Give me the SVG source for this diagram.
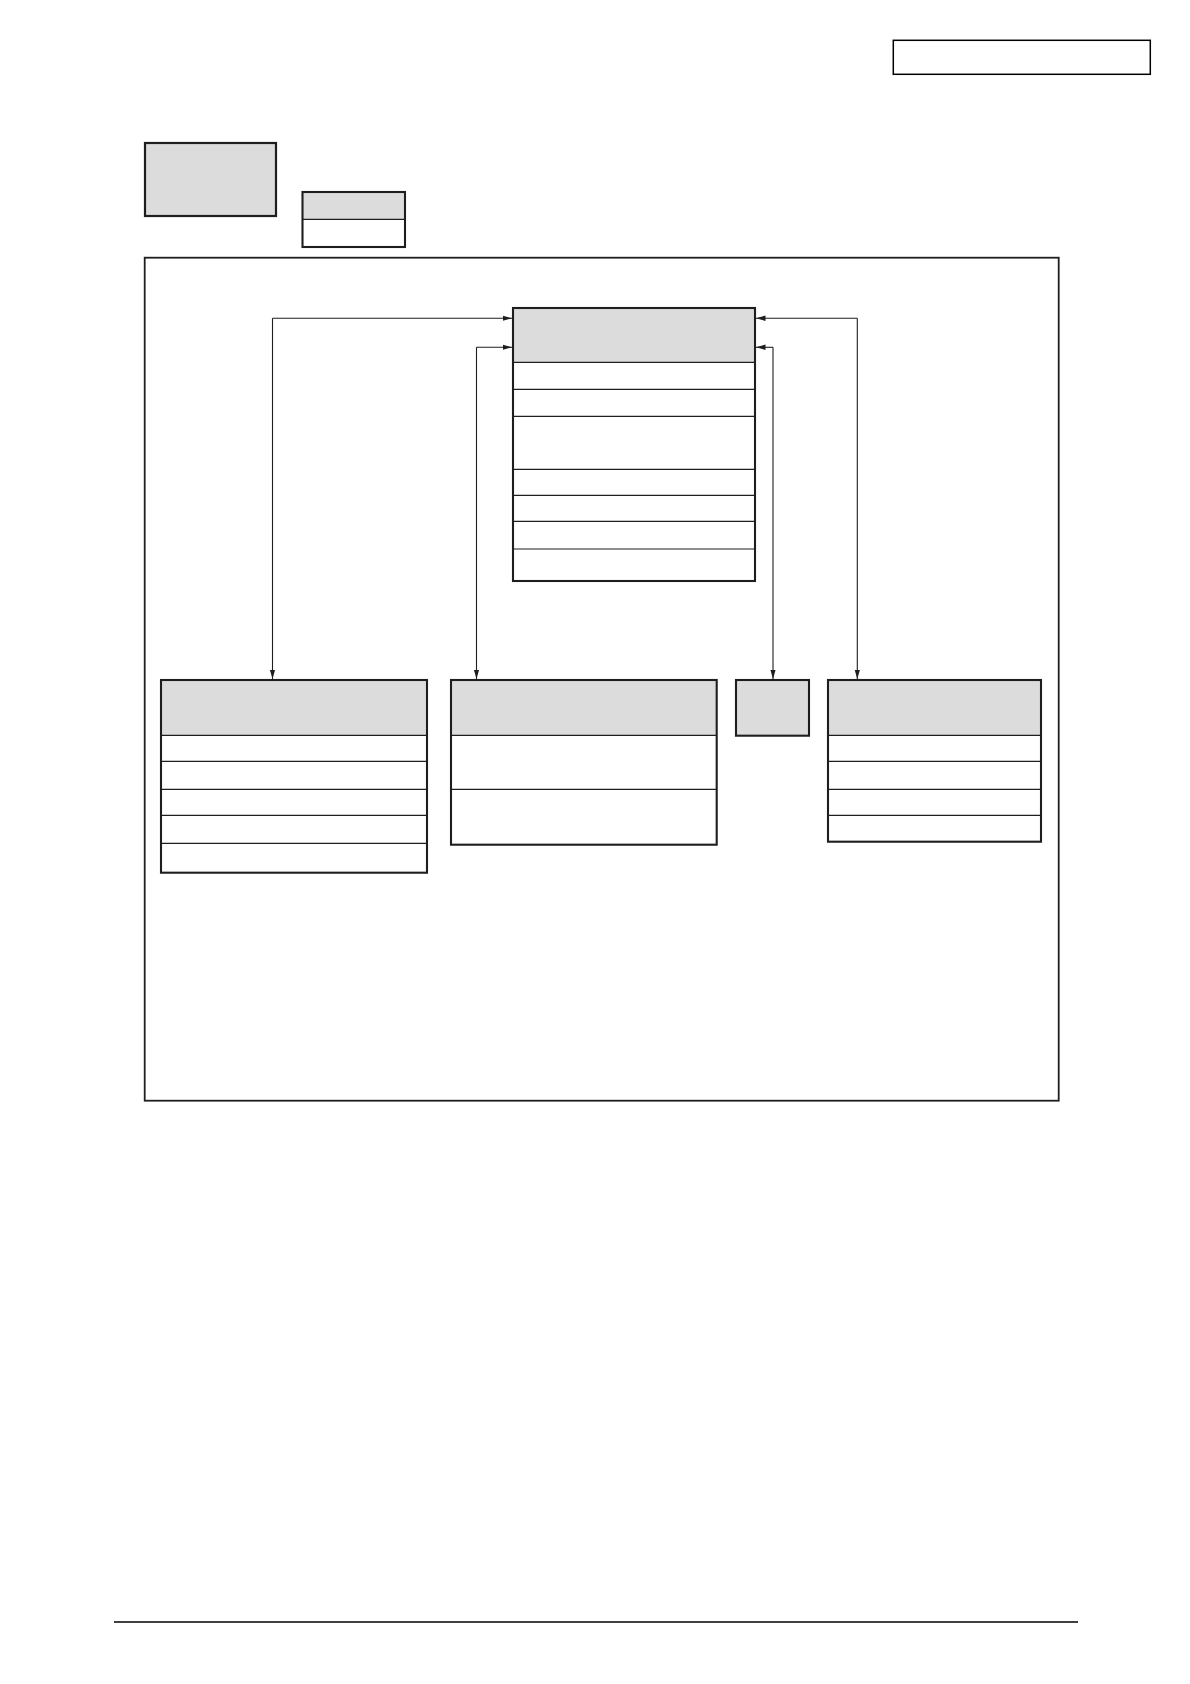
<svg xmlns="http://www.w3.org/2000/svg" width="1190" height="1684" viewBox="0 0 1190 1684">
<style>
.box{fill:none;stroke:#1e1e1e;stroke-width:2.1}
.hdr{fill:#dcdcdc;stroke:none}
.div{stroke:#1e1e1e;stroke-width:1.2;fill:none}
.conn{stroke:#1e1e1e;stroke-width:1.1;fill:none}
.arr{fill:#1e1e1e;stroke:none}
</style>
<defs>
<marker id="ah" markerWidth="10" markerHeight="6" refX="9.5" refY="3" orient="auto" markerUnits="userSpaceOnUse">
<path d="M0,0.3 L9.5,3 L0,5.7 Z" class="arr"/>
</marker>
</defs>
<rect width="1190" height="1684" fill="#fff"/>
<g id="page-tag"><rect x="893.3" y="40.3" width="257" height="34" fill="none" stroke="#000" stroke-width="1.5"/></g>
<g id="title-box"><rect x="145" y="143" width="131" height="73" fill="#dcdcdc" stroke="#1e1e1e" stroke-width="2.2"/></g>
<g id="legend"><rect x="302.5" y="192" width="102.5" height="27.3" class="hdr"/><rect x="302.5" y="192" width="102.5" height="55" class="box"/><line x1="302.5" y1="219.3" x2="405" y2="219.3" class="div"/></g>
<g id="frame"><rect x="144.7" y="257.7" width="914" height="843" fill="none" stroke="#1e1e1e" stroke-width="1.8"/></g>
<g id="main"><rect x="513" y="308" width="242" height="54.3" class="hdr"/><rect x="513" y="308" width="242" height="273" class="box"/>
<path class="div" d="M513,362.3H755M513,389.3H755M513,416.3H755M513,469.3H755M513,495.3H755M513,521.3H755M513,549H755"/></g>
<g id="left"><rect x="161" y="680" width="266" height="55.3" class="hdr"/><rect x="161" y="680" width="266" height="192.7" class="box"/>
<path class="div" d="M161,735.3H427M161,761.3H427M161,789.3H427M161,815.3H427M161,843.3H427"/></g>
<g id="mid"><rect x="451" y="680" width="265.7" height="55.3" class="hdr"/><rect x="451" y="680" width="265.7" height="164.7" class="box"/>
<path class="div" d="M451,735.3H716.7M451,789.3H716.7"/></g>
<g id="small"><rect x="736" y="680" width="73" height="55.7" fill="#dcdcdc" stroke="#1e1e1e" stroke-width="2.1"/></g>
<g id="right"><rect x="828" y="680" width="213" height="55.3" class="hdr"/><rect x="828" y="680" width="213" height="161.7" class="box"/>
<path class="div" d="M828,735.3H1041M828,761.3H1041M828,789.3H1041M828,815.3H1041"/></g>
<g id="connectors">
<path class="conn" d="M272.5,318.3H512" marker-end="url(#ah)"/>
<path class="conn" d="M272.5,318.3V679" marker-end="url(#ah)"/>
<path class="conn" d="M476.5,347.3H512" marker-end="url(#ah)"/>
<path class="conn" d="M476.5,347.3V679" marker-end="url(#ah)"/>
<path class="conn" d="M773,347.3H756" marker-end="url(#ah)"/>
<path class="conn" d="M773,347.3V679" marker-end="url(#ah)"/>
<path class="conn" d="M857.3,318.3H756" marker-end="url(#ah)"/>
<path class="conn" d="M857.3,318.3V679" marker-end="url(#ah)"/>
</g>
<g id="footer"><line x1="114" y1="1622" x2="1078" y2="1622" stroke="#000" stroke-width="1.5"/></g>
</svg>
